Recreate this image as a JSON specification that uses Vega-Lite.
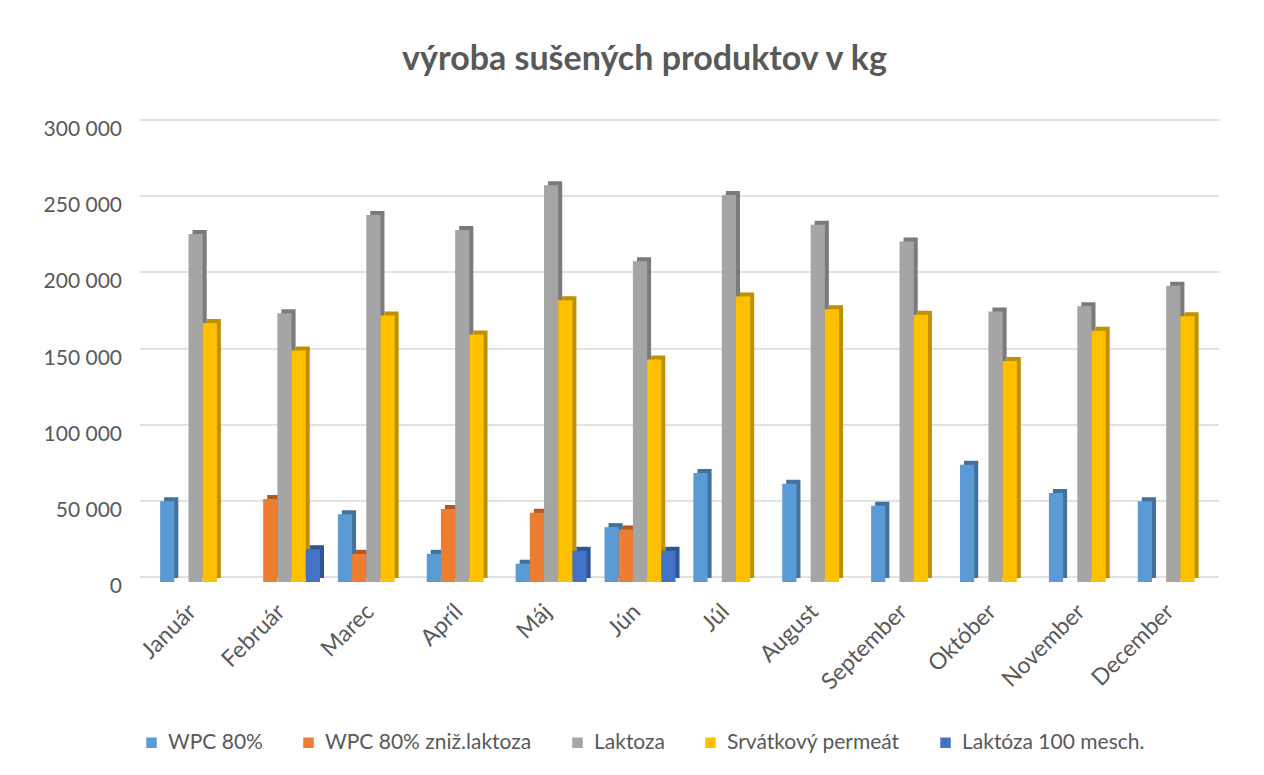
{
  "$schema": "https://vega.github.io/schema/vega-lite/v6.json",
  "autosize": {"type": "none"},
  "width": 1079,
  "height": 457,
  "padding": {"left": 145, "top": 125, "right": 40, "bottom": 193},
  "background": "white",
  "title": {
    "text": "výroba sušených produktov v kg",
    "font": "Lato",
    "fontSize": 34,
    "fontWeight": "bold",
    "color": "#595959",
    "anchor": "middle",
    "baseline": "alphabetic",
    "offset": 20,
    "dx": -40
  },
  "config": {
    "locale": {"number": {"decimal": ",", "thousands": " ", "grouping": [3], "currency": ["", " €"]}},
    "view": {"stroke": null},
    "font": "Lato"
  },
  "data": {
    "values": [
      {"month": "Január", "series": "WPC 80%", "value": 53000},
      {"month": "Január", "series": "Laktoza", "value": 228500},
      {"month": "Január", "series": "Srvátkový permeát", "value": 170000},
      {"month": "Február", "series": "WPC 80%", "value": 0},
      {"month": "Február", "series": "WPC 80% zniž.laktoza", "value": 54500},
      {"month": "Február", "series": "Laktoza", "value": 176500},
      {"month": "Február", "series": "Srvátkový permeát", "value": 152000},
      {"month": "Február", "series": "Laktóza 100 mesch.", "value": 21500},
      {"month": "Marec", "series": "WPC 80%", "value": 44500},
      {"month": "Marec", "series": "WPC 80% zniž.laktoza", "value": 18500},
      {"month": "Marec", "series": "Laktoza", "value": 241000},
      {"month": "Marec", "series": "Srvátkový permeát", "value": 175000},
      {"month": "Apríl", "series": "WPC 80%", "value": 18500},
      {"month": "Apríl", "series": "WPC 80% zniž.laktoza", "value": 48000},
      {"month": "Apríl", "series": "Laktoza", "value": 231000},
      {"month": "Apríl", "series": "Srvátkový permeát", "value": 162500},
      {"month": "Máj", "series": "WPC 80%", "value": 12000},
      {"month": "Máj", "series": "WPC 80% zniž.laktoza", "value": 45500},
      {"month": "Máj", "series": "Laktoza", "value": 260500},
      {"month": "Máj", "series": "Srvátkový permeát", "value": 185000},
      {"month": "Máj", "series": "Laktóza 100 mesch.", "value": 20500},
      {"month": "Jún", "series": "WPC 80%", "value": 36000},
      {"month": "Jún", "series": "WPC 80% zniž.laktoza", "value": 34500},
      {"month": "Jún", "series": "Laktoza", "value": 210500},
      {"month": "Jún", "series": "Srvátkový permeát", "value": 146000},
      {"month": "Jún", "series": "Laktóza 100 mesch.", "value": 20500},
      {"month": "Júl", "series": "WPC 80%", "value": 71500},
      {"month": "Júl", "series": "Laktoza", "value": 254000},
      {"month": "Júl", "series": "Srvátkový permeát", "value": 187500},
      {"month": "Júl", "series": "Laktóza 100 mesch.", "value": 0},
      {"month": "August", "series": "WPC 80%", "value": 64500},
      {"month": "August", "series": "Laktoza", "value": 234500},
      {"month": "August", "series": "Srvátkový permeát", "value": 179000},
      {"month": "September", "series": "WPC 80%", "value": 50000},
      {"month": "September", "series": "Laktoza", "value": 223500},
      {"month": "September", "series": "Srvátkový permeát", "value": 175500},
      {"month": "Október", "series": "WPC 80%", "value": 77000},
      {"month": "Október", "series": "Laktoza", "value": 177500},
      {"month": "Október", "series": "Srvátkový permeát", "value": 145000},
      {"month": "November", "series": "WPC 80%", "value": 58500},
      {"month": "November", "series": "Laktoza", "value": 181000},
      {"month": "November", "series": "Srvátkový permeát", "value": 165000},
      {"month": "December", "series": "WPC 80%", "value": 53000},
      {"month": "December", "series": "Laktoza", "value": 194500},
      {"month": "December", "series": "Srvátkový permeát", "value": 174500}
    ]
  },
  "encoding": {
    "x": {
      "field": "month",
      "type": "nominal",
      "sort": ["Január", "Február", "Marec", "Apríl", "Máj", "Jún", "Júl", "August", "September", "Október", "November", "December"],
      "scale": {"paddingInner": 0.2, "paddingOuter": 0.17},
      "axis": {
        "title": null,
        "domain": false,
        "ticks": false,
        "grid": false,
        "labelAngle": -45,
        "labelAlign": "right",
        "labelBaseline": "top",
        "labelPadding": 18,
        "labelOffset": -11,
        "labelFontSize": 23,
        "labelColor": "#595959",
        "labelFont": "Lato"
      }
    },
    "y": {
      "field": "value",
      "type": "quantitative",
      "scale": {"domain": [0, 300000], "nice": false},
      "axis": {
        "title": null,
        "domain": false,
        "ticks": false,
        "grid": true,
        "gridColor": "#d9d9d9",
        "gridWidth": 1.5,
        "translate": -5,
        "labelOffset": 10,
        "values": [0, 50000, 100000, 150000, 200000, 250000, 300000],
        "format": ",.0f",
        "labelFontSize": 21,
        "labelColor": "#595959",
        "labelFont": "Lato",
        "labelPadding": 18
      }
    }
  },
  "layer": [
    {
      "mark": {"type": "bar", "yOffset": -4},
      "encoding": {
        "xOffset": {
          "field": "series",
          "type": "nominal",
          "scale": {
            "domain": ["WPC 80%", "WPC 80% zniž.laktoza", "Laktoza", "Srvátkový permeát", "Laktóza 100 mesch."],
            "range": [4, 75],
            "paddingInner": 0,
            "paddingOuter": 0
          }
        },
        "color": {
          "field": "series",
          "type": "nominal",
          "scale": {
            "domain": ["WPC 80%", "WPC 80% zniž.laktoza", "Laktoza", "Srvátkový permeát", "Laktóza 100 mesch."],
            "range": ["#41719c", "#ae5a21", "#7b7b7b", "#bf9000", "#2f5597"]
          },
          "legend": null
        }
      }
    },
    {
      "mark": {"type": "bar"},
      "encoding": {
        "xOffset": {
          "field": "series",
          "type": "nominal",
          "scale": {
            "domain": ["WPC 80%", "WPC 80% zniž.laktoza", "Laktoza", "Srvátkový permeát", "Laktóza 100 mesch."],
            "range": [0, 71],
            "paddingInner": 0,
            "paddingOuter": 0
          }
        },
        "color": {
          "field": "series",
          "type": "nominal",
          "scale": {
            "domain": ["WPC 80%", "WPC 80% zniž.laktoza", "Laktoza", "Srvátkový permeát", "Laktóza 100 mesch."],
            "range": ["#5b9bd5", "#ed7d31", "#a5a5a5", "#ffc000", "#4472c4"]
          },
          "legend": {
            "title": null,
            "orient": "none",
            "direction": "horizontal",
            "legendX": -4,
            "legendY": 607,
            "symbolType": "square",
            "symbolSize": 110,
            "symbolStrokeWidth": 0,
            "labelFontSize": 21,
            "labelLimit": 0,
            "labelColor": "#595959",
            "labelFont": "Lato",
            "labelOffset": 6,
            "columnPadding": 35
          }
        }
      }
    }
  ],
  "resolve": {"scale": {"xOffset": "independent", "color": "independent"}}
}
